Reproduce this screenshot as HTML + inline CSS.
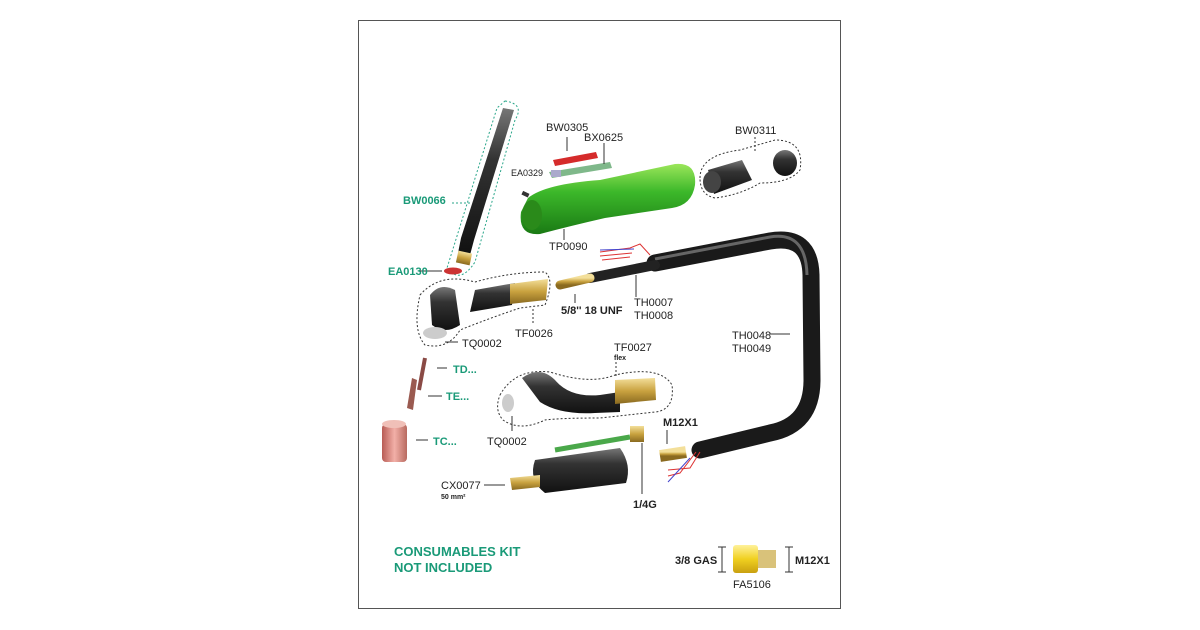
<!DOCTYPE html>
<html><head><meta charset="utf-8"><style>
html,body{margin:0;padding:0;background:#fff;width:1200px;height:630px;overflow:hidden}
svg text{font-family:"Liberation Sans",Arial,sans-serif;font-size:11px;fill:#222}
.b{font-weight:bold}
.t{fill:#1a9a78;font-weight:bold}
</style></head><body>
<svg width="1200" height="630" viewBox="0 0 1200 630" xmlns="http://www.w3.org/2000/svg">
<defs>
<linearGradient id="blk" x1="0" y1="0" x2="0" y2="1"><stop offset="0" stop-color="#777"/><stop offset=".35" stop-color="#333"/><stop offset="1" stop-color="#111"/></linearGradient>
<linearGradient id="grn" x1="0" y1="0" x2="0" y2="1"><stop offset="0" stop-color="#9be65a"/><stop offset=".4" stop-color="#3cb82a"/><stop offset="1" stop-color="#1a7a14"/></linearGradient>
<linearGradient id="brs" x1="0" y1="0" x2="0" y2="1"><stop offset="0" stop-color="#f3df9a"/><stop offset=".5" stop-color="#c9a23f"/><stop offset="1" stop-color="#8a6a20"/></linearGradient>
<linearGradient id="cop" x1="0" y1="0" x2="1" y2="0"><stop offset="0" stop-color="#b85c55"/><stop offset=".5" stop-color="#f2b0a8"/><stop offset="1" stop-color="#b86a60"/></linearGradient>
<linearGradient id="yel" x1="0" y1="0" x2="0" y2="1"><stop offset="0" stop-color="#fff19a"/><stop offset=".5" stop-color="#f0d020"/><stop offset="1" stop-color="#c9a010"/></linearGradient>
</defs>
<rect x="358.5" y="20.5" width="482" height="588" fill="#fff" stroke="#555" stroke-width="1"/>

<!-- cable -->
<path d="M655 263 L770 241 Q810 234 811 275 L812 380 Q812 425 770 433 L700 450" fill="none" stroke="#1a1a1a" stroke-width="17" stroke-linecap="round"/>
<path d="M655 259 L770 237 Q806 231 807 275" fill="none" stroke="#666" stroke-width="3"/>
<path d="M590 278 L655 265" stroke="#222" stroke-width="10" stroke-linecap="round"/>
<path d="M560 285 L590 278" stroke="url(#brs)" stroke-width="9" stroke-linecap="round"/>
<path d="M600 252 L630 248 L640 244 L650 255 M600 256 L632 253 M602 260 L630 257" stroke="#d33" stroke-width="1" fill="none"/>
<path d="M600 250 L634 249" stroke="#44c" stroke-width="1"/>
<path d="M686 452 L660 456" stroke="url(#brs)" stroke-width="12"/>
<path d="M700 452 L690 468 L668 470 M696 452 L680 473 L668 476" stroke="#d33" stroke-width="1" fill="none"/>
<path d="M690 458 L668 482" stroke="#44c" stroke-width="1"/>

<!-- back cap -->
<path d="M503 108 L514 110 L474 240 L470 255 L458 253 L461 238 Z" fill="url(#blk)"/>
<rect x="457" y="252" width="14" height="12" fill="url(#brs)" transform="rotate(12 464 258)"/>
<path d="M505 101 Q525 104 515 120 L475 262 Q460 285 447 268 L497 108 Z" fill="none" stroke="#2aa68a" stroke-dasharray="2 2"/>
<ellipse cx="453" cy="271" rx="9" ry="3.5" fill="#c33"/>
<line x1="418" y1="271" x2="442" y2="271" stroke="#333"/>
<line x1="452" y1="203" x2="470" y2="203" stroke="#2aa68a" stroke-dasharray="2 2"/>

<!-- small parts -->
<path d="M553 160 L596 152 L598 158 L555 166 Z" fill="#d52b2b"/>
<path d="M549 172 L610 162 L612 168 L552 178 Z" fill="#7fb88a"/>
<rect x="551" y="170" width="10" height="7" fill="#aac"/>
<rect x="522" y="192" width="7" height="4" fill="#333" transform="rotate(25 525 194)"/>
<line x1="567" y1="137" x2="567" y2="151" stroke="#333"/><line x1="604" y1="143" x2="604" y2="164" stroke="#333"/>

<!-- handle -->
<path d="M528 198 Q545 184 600 180 L675 164 Q697 162 695 185 Q692 205 672 208 L605 218 Q570 226 540 234 Q518 236 521 212 Z" fill="url(#grn)"/>
<ellipse cx="532" cy="215" rx="10" ry="15" fill="#2a8a1a"/>
<line x1="564" y1="229" x2="564" y2="240" stroke="#333"/>

<!-- BW0311 -->
<path d="M700 178 Q700 155 740 150 L775 140 Q805 140 800 170 Q790 183 760 183 Q740 195 715 198 Q700 195 700 178 Z" fill="none" stroke="#333" stroke-dasharray="2 2"/>
<path d="M708 170 L742 160 L752 180 L714 194 Z" fill="url(#blk)"/>
<ellipse cx="712" cy="182" rx="9" ry="11" fill="#444"/>
<ellipse cx="785" cy="163" rx="12" ry="13" fill="url(#blk)"/>
<line x1="755" y1="137" x2="755" y2="152" stroke="#333" stroke-dasharray="2 2"/>

<!-- TF0026 head -->
<path d="M420 295 Q440 272 475 282 Q510 272 545 272 Q555 280 545 305 L520 308 Q490 318 460 330 Q448 350 425 345 Q412 330 420 295 Z" fill="none" stroke="#333" stroke-dasharray="2 2"/>
<path d="M475 290 L515 283 L512 305 L470 312 Z" fill="url(#blk)"/>
<path d="M510 284 L548 279 L546 300 L510 304 Z" fill="url(#brs)"/>
<path d="M430 295 Q440 282 455 290 L460 325 Q445 335 432 325 Z" fill="url(#blk)"/>
<ellipse cx="435" cy="333" rx="12" ry="6" fill="#ccc"/>
<line x1="533" y1="309" x2="533" y2="325" stroke="#333" stroke-dasharray="2 2"/>
<line x1="445" y1="342" x2="458" y2="342" stroke="#333"/>
<line x1="575" y1="294" x2="575" y2="303" stroke="#333"/><line x1="636" y1="275" x2="636" y2="297" stroke="#333"/>

<!-- consumables -->
<path d="M425 358 L419 390" stroke="#8a4a45" stroke-width="4"/>
<path d="M412 378 L417 380 L413 410 L407 408 Z" fill="#9a5a50"/>
<rect x="382" y="424" width="25" height="38" rx="4" fill="url(#cop)"/>
<ellipse cx="394" cy="424" rx="12" ry="4" fill="#f0c0b8"/>
<line x1="437" y1="368" x2="447" y2="368" stroke="#333"/><line x1="428" y1="396" x2="442" y2="396" stroke="#333"/><line x1="416" y1="440" x2="428" y2="440" stroke="#333"/>

<!-- TF0027 -->
<path d="M500 395 Q515 368 550 372 Q590 385 615 375 Q660 365 672 385 Q675 410 655 412 L600 418 Q560 418 545 420 Q520 432 503 420 Q494 410 500 395 Z" fill="none" stroke="#333" stroke-dasharray="2 2"/>
<path d="M522 378 Q540 365 555 380 Q570 398 600 395 L620 392 L620 412 L595 413 Q560 415 540 402 Z" fill="url(#blk)"/>
<path d="M615 380 L655 378 L656 400 L615 404 Z" fill="url(#brs)"/>
<ellipse cx="508" cy="403" rx="6" ry="9" fill="#ccc"/>
<line x1="512" y1="416" x2="512" y2="431" stroke="#333"/>
<line x1="616" y1="362" x2="616" y2="376" stroke="#333" stroke-dasharray="2 2"/>

<!-- connector + hose -->
<path d="M555 450 L630 437" stroke="#4aa84a" stroke-width="5"/>
<rect x="630" y="426" width="14" height="16" fill="url(#brs)"/>
<path d="M535 460 L620 448 Q632 465 626 483 L545 493 Q528 480 535 460 Z" fill="url(#blk)"/>
<path d="M510 478 L540 475 L540 487 L512 490 Z" fill="url(#brs)"/>
<line x1="484" y1="485" x2="505" y2="485" stroke="#333"/>
<line x1="642" y1="443" x2="642" y2="494" stroke="#333"/><line x1="667" y1="430" x2="667" y2="444" stroke="#333"/>
<line x1="770" y1="334" x2="790" y2="334" stroke="#333"/>

<!-- FA5106 -->
<rect x="733" y="545" width="25" height="28" rx="3" fill="url(#yel)"/>
<rect x="758" y="550" width="18" height="18" fill="#d9c27a"/>
<path d="M722 547 V572 M718 547 H726 M718 572 H726 M789 547 V572 M785 547 H793 M785 572 H793" stroke="#333"/>

<!-- labels -->
<text x="546" y="131">BW0305</text>
<text x="584" y="141">BX0625</text>
<text x="735" y="134">BW0311</text>
<text x="511" y="176" style="font-size:9px">EA0329</text>
<text x="403" y="204" class="t">BW0066</text>
<text x="549" y="250">TP0090</text>
<text x="388" y="275" class="t">EA0130</text>
<text x="561" y="314" class="b">5/8'' 18 UNF</text>
<text x="634" y="306">TH0007</text>
<text x="634" y="319">TH0008</text>
<text x="515" y="337">TF0026</text>
<text x="462" y="347">TQ0002</text>
<text x="732" y="339">TH0048</text>
<text x="732" y="352">TH0049</text>
<text x="614" y="351">TF0027</text>
<text x="614" y="360" class="b" style="font-size:7px">flex</text>
<text x="453" y="373" class="t">TD...</text>
<text x="446" y="400" class="t">TE...</text>
<text x="433" y="445" class="t">TC...</text>
<text x="487" y="445">TQ0002</text>
<text x="663" y="426" class="b">M12X1</text>
<text x="441" y="489">CX0077</text>
<text x="441" y="499" class="b" style="font-size:7px">50 mm²</text>
<text x="633" y="508" class="b">1/4G</text>
<text x="394" y="556" class="t" style="font-size:13px">CONSUMABLES KIT</text>
<text x="394" y="572" class="t" style="font-size:13px">NOT INCLUDED</text>
<text x="675" y="564" class="b">3/8 GAS</text>
<text x="795" y="564" class="b">M12X1</text>
<text x="733" y="588">FA5106</text>
</svg>
</body></html>
